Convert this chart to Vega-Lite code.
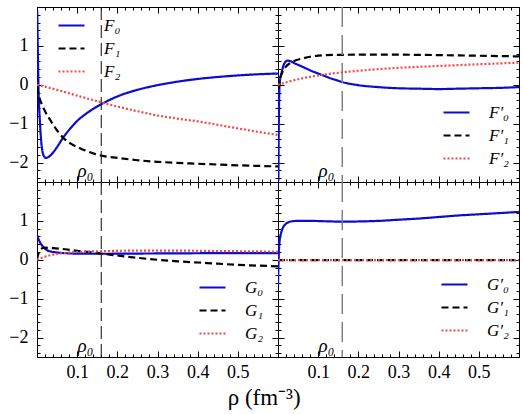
{
  "$schema": "https://vega.github.io/schema/vega-lite/v6.json",
  "padding": {"left": 8, "top": 5, "right": 4, "bottom": 0},
  "background": "white",
  "columns": 2,
  "spacing": 0,
  "bounds": "flush",
  "resolve": {"scale": {"color": "independent", "strokeDash": "independent"}, "legend": {"color": "independent", "strokeDash": "independent"}},
  "title": {"text": "ρ (fm⁻³)", "orient": "bottom", "anchor": "middle", "font": "Liberation Serif", "fontSize": 23, "fontWeight": "normal", "color": "black", "offset": 2},
  "datasets": {
    "F": [
      {"r": 0.0005, "v": 1.9, "s": "F₀"}, {"r": 0.002, "v": 0.9, "s": "F₀"}, {"r": 0.004, "v": -0.2, "s": "F₀"}, {"r": 0.007, "v": -0.9, "s": "F₀"},
      {"r": 0.01, "v": -1.4, "s": "F₀"}, {"r": 0.013, "v": -1.68, "s": "F₀"}, {"r": 0.017, "v": -1.83, "s": "F₀"}, {"r": 0.022, "v": -1.88, "s": "F₀"},
      {"r": 0.028, "v": -1.86, "s": "F₀"}, {"r": 0.036, "v": -1.79, "s": "F₀"}, {"r": 0.05, "v": -1.6, "s": "F₀"}, {"r": 0.065, "v": -1.36, "s": "F₀"},
      {"r": 0.08, "v": -1.16, "s": "F₀"}, {"r": 0.1, "v": -0.93, "s": "F₀"}, {"r": 0.12, "v": -0.76, "s": "F₀"}, {"r": 0.14, "v": -0.62, "s": "F₀"},
      {"r": 0.16, "v": -0.5, "s": "F₀"}, {"r": 0.2, "v": -0.3, "s": "F₀"}, {"r": 0.25, "v": -0.13, "s": "F₀"}, {"r": 0.3, "v": -0.01, "s": "F₀"},
      {"r": 0.35, "v": 0.08, "s": "F₀"}, {"r": 0.4, "v": 0.15, "s": "F₀"}, {"r": 0.45, "v": 0.2, "s": "F₀"}, {"r": 0.5, "v": 0.24, "s": "F₀"},
      {"r": 0.55, "v": 0.27, "s": "F₀"}, {"r": 0.6, "v": 0.29, "s": "F₀"},
      {"r": 0, "v": -0.05, "s": "F₁"}, {"r": 0.005, "v": -0.3, "s": "F₁"}, {"r": 0.01, "v": -0.45, "s": "F₁"}, {"r": 0.02, "v": -0.68, "s": "F₁"},
      {"r": 0.032, "v": -0.89, "s": "F₁"}, {"r": 0.045, "v": -1.1, "s": "F₁"}, {"r": 0.065, "v": -1.36, "s": "F₁"}, {"r": 0.085, "v": -1.52, "s": "F₁"},
      {"r": 0.107, "v": -1.63, "s": "F₁"}, {"r": 0.13, "v": -1.73, "s": "F₁"}, {"r": 0.16, "v": -1.82, "s": "F₁"}, {"r": 0.2, "v": -1.88, "s": "F₁"},
      {"r": 0.25, "v": -1.94, "s": "F₁"}, {"r": 0.3, "v": -1.98, "s": "F₁"}, {"r": 0.4, "v": -2.03, "s": "F₁"}, {"r": 0.5, "v": -2.07, "s": "F₁"},
      {"r": 0.6, "v": -2.1, "s": "F₁"},
      {"r": 0, "v": 0, "s": "F₂"}, {"r": 0.05, "v": -0.13, "s": "F₂"}, {"r": 0.1, "v": -0.28, "s": "F₂"}, {"r": 0.16, "v": -0.45, "s": "F₂"},
      {"r": 0.2, "v": -0.56, "s": "F₂"}, {"r": 0.25, "v": -0.68, "s": "F₂"}, {"r": 0.3, "v": -0.79, "s": "F₂"}, {"r": 0.35, "v": -0.87, "s": "F₂"},
      {"r": 0.4, "v": -0.94, "s": "F₂"}, {"r": 0.45, "v": -1.03, "s": "F₂"}, {"r": 0.5, "v": -1.12, "s": "F₂"}, {"r": 0.55, "v": -1.21, "s": "F₂"},
      {"r": 0.6, "v": -1.29, "s": "F₂"}
    ],
    "Fp": [
      {"r": 0.001, "v": -2.47, "s": "F′₀"}, {"r": 0.002, "v": -1.0, "s": "F′₀"}, {"r": 0.003, "v": -0.3, "s": "F′₀"}, {"r": 0.004, "v": 0.03, "s": "F′₀"},
      {"r": 0.006, "v": 0.18, "s": "F′₀"}, {"r": 0.009, "v": 0.31, "s": "F′₀"}, {"r": 0.0125, "v": 0.46, "s": "F′₀"}, {"r": 0.017, "v": 0.57, "s": "F′₀"},
      {"r": 0.0225, "v": 0.62, "s": "F′₀"}, {"r": 0.03, "v": 0.61, "s": "F′₀"}, {"r": 0.04, "v": 0.56, "s": "F′₀"}, {"r": 0.055, "v": 0.49, "s": "F′₀"},
      {"r": 0.07, "v": 0.42, "s": "F′₀"}, {"r": 0.085, "v": 0.35, "s": "F′₀"}, {"r": 0.1, "v": 0.29, "s": "F′₀"}, {"r": 0.115, "v": 0.23, "s": "F′₀"},
      {"r": 0.13, "v": 0.17, "s": "F′₀"}, {"r": 0.145, "v": 0.12, "s": "F′₀"}, {"r": 0.16, "v": 0.07, "s": "F′₀"}, {"r": 0.2, "v": -0.01, "s": "F′₀"},
      {"r": 0.25, "v": -0.06, "s": "F′₀"}, {"r": 0.3, "v": -0.09, "s": "F′₀"}, {"r": 0.35, "v": -0.1, "s": "F′₀"}, {"r": 0.4, "v": -0.11, "s": "F′₀"},
      {"r": 0.45, "v": -0.1, "s": "F′₀"}, {"r": 0.5, "v": -0.09, "s": "F′₀"}, {"r": 0.55, "v": -0.08, "s": "F′₀"}, {"r": 0.6, "v": -0.06, "s": "F′₀"},
      {"r": 0.002, "v": -0.1, "s": "F′₁"}, {"r": 0.005, "v": 0.15, "s": "F′₁"}, {"r": 0.01, "v": 0.3, "s": "F′₁"}, {"r": 0.02, "v": 0.47, "s": "F′₁"},
      {"r": 0.029, "v": 0.55, "s": "F′₁"}, {"r": 0.045, "v": 0.63, "s": "F′₁"}, {"r": 0.0625, "v": 0.68, "s": "F′₁"}, {"r": 0.08, "v": 0.72, "s": "F′₁"},
      {"r": 0.1, "v": 0.75, "s": "F′₁"}, {"r": 0.15, "v": 0.77, "s": "F′₁"}, {"r": 0.25, "v": 0.775, "s": "F′₁"}, {"r": 0.35, "v": 0.77, "s": "F′₁"},
      {"r": 0.45, "v": 0.755, "s": "F′₁"}, {"r": 0.6, "v": 0.73, "s": "F′₁"},
      {"r": 0, "v": 0, "s": "F′₂"}, {"r": 0.03, "v": 0.09, "s": "F′₂"}, {"r": 0.0625, "v": 0.17, "s": "F′₂"}, {"r": 0.1, "v": 0.24, "s": "F′₂"},
      {"r": 0.16, "v": 0.32, "s": "F′₂"}, {"r": 0.2, "v": 0.36, "s": "F′₂"}, {"r": 0.29, "v": 0.43, "s": "F′₂"}, {"r": 0.37, "v": 0.47, "s": "F′₂"},
      {"r": 0.46, "v": 0.51, "s": "F′₂"}, {"r": 0.53, "v": 0.54, "s": "F′₂"}, {"r": 0.6, "v": 0.57, "s": "F′₂"}
    ],
    "G": [
      {"r": 0, "v": 0.65, "s": "G₀"}, {"r": 0.005, "v": 0.5, "s": "G₀"}, {"r": 0.011, "v": 0.39, "s": "G₀"}, {"r": 0.023, "v": 0.26, "s": "G₀"},
      {"r": 0.035, "v": 0.21, "s": "G₀"}, {"r": 0.048, "v": 0.19, "s": "G₀"}, {"r": 0.07, "v": 0.17, "s": "G₀"}, {"r": 0.09, "v": 0.16, "s": "G₀"},
      {"r": 0.16, "v": 0.155, "s": "G₀"}, {"r": 0.25, "v": 0.16, "s": "G₀"}, {"r": 0.35, "v": 0.165, "s": "G₀"}, {"r": 0.45, "v": 0.17, "s": "G₀"},
      {"r": 0.6, "v": 0.17, "s": "G₀"},
      {"r": 0, "v": 0.02, "s": "G₁"}, {"r": 0.005, "v": 0.2, "s": "G₁"}, {"r": 0.01, "v": 0.28, "s": "G₁"}, {"r": 0.02, "v": 0.31, "s": "G₁"},
      {"r": 0.04, "v": 0.3, "s": "G₁"}, {"r": 0.07, "v": 0.27, "s": "G₁"}, {"r": 0.1, "v": 0.23, "s": "G₁"}, {"r": 0.13, "v": 0.2, "s": "G₁"},
      {"r": 0.16, "v": 0.16, "s": "G₁"}, {"r": 0.2, "v": 0.11, "s": "G₁"}, {"r": 0.25, "v": 0.05, "s": "G₁"}, {"r": 0.3, "v": 0.0, "s": "G₁"},
      {"r": 0.35, "v": -0.04, "s": "G₁"}, {"r": 0.4, "v": -0.07, "s": "G₁"}, {"r": 0.45, "v": -0.1, "s": "G₁"}, {"r": 0.5, "v": -0.13, "s": "G₁"},
      {"r": 0.55, "v": -0.15, "s": "G₁"}, {"r": 0.6, "v": -0.17, "s": "G₁"},
      {"r": 0, "v": 0.0, "s": "G₂"}, {"r": 0.02, "v": 0.08, "s": "G₂"}, {"r": 0.05, "v": 0.15, "s": "G₂"}, {"r": 0.1, "v": 0.2, "s": "G₂"},
      {"r": 0.16, "v": 0.22, "s": "G₂"}, {"r": 0.25, "v": 0.235, "s": "G₂"}, {"r": 0.35, "v": 0.235, "s": "G₂"}, {"r": 0.45, "v": 0.225, "s": "G₂"},
      {"r": 0.6, "v": 0.21, "s": "G₂"}
    ],
    "Gp": [
      {"r": 0, "v": -0.65, "s": "G′₀"}, {"r": 0.001, "v": -0.2, "s": "G′₀"}, {"r": 0.002, "v": 0.15, "s": "G′₀"}, {"r": 0.004, "v": 0.48, "s": "G′₀"},
      {"r": 0.008, "v": 0.7, "s": "G′₀"}, {"r": 0.0125, "v": 0.83, "s": "G′₀"}, {"r": 0.018, "v": 0.91, "s": "G′₀"}, {"r": 0.025, "v": 0.96, "s": "G′₀"},
      {"r": 0.035, "v": 0.99, "s": "G′₀"}, {"r": 0.05, "v": 1.0, "s": "G′₀"}, {"r": 0.08, "v": 1.0, "s": "G′₀"}, {"r": 0.12, "v": 0.99, "s": "G′₀"},
      {"r": 0.16, "v": 0.98, "s": "G′₀"}, {"r": 0.2, "v": 0.985, "s": "G′₀"}, {"r": 0.25, "v": 1.0, "s": "G′₀"}, {"r": 0.3, "v": 1.03, "s": "G′₀"},
      {"r": 0.35, "v": 1.06, "s": "G′₀"}, {"r": 0.4, "v": 1.1, "s": "G′₀"}, {"r": 0.45, "v": 1.14, "s": "G′₀"}, {"r": 0.5, "v": 1.17, "s": "G′₀"},
      {"r": 0.55, "v": 1.2, "s": "G′₀"}, {"r": 0.6, "v": 1.23, "s": "G′₀"},
      {"r": 0, "v": -0.01, "s": "G′₁"}, {"r": 0.3, "v": -0.01, "s": "G′₁"}, {"r": 0.6, "v": -0.01, "s": "G′₁"},
      {"r": 0, "v": -0.01, "s": "G′₂"}, {"r": 0.3, "v": -0.01, "s": "G′₂"}, {"r": 0.6, "v": -0.01, "s": "G′₂"}
    ]
  },
  "concat": [
    {
      "width": 241, "height": 175,
      "resolve": {"axis": {"x": "independent", "y": "independent"}},
      "layer": [
        {
          "data": {"name": "F"},
          "mark": {"type": "line", "strokeWidth": 2.2, "clip": true, "interpolate": "monotone"},
          "encoding": {
            "x": {"field": "r", "type": "quantitative", "scale": {"domain": [0, 0.6], "nice": false, "zero": false},
              "axis": {"orient": "bottom", "labels": false, "values": [0.02,0.04,0.06,0.08,0.1,0.12,0.14,0.16,0.18,0.2,0.22,0.24,0.26,0.28,0.3,0.32,0.34,0.36,0.38,0.4,0.42,0.44,0.46,0.48,0.5,0.52,0.54,0.56,0.58],
                "tickSize": {"condition": {"test": "abs(datum.value*10-round(datum.value*10))<0.001", "value": -6}, "value": -3}}},
            "y": {"field": "v", "type": "quantitative", "scale": {"domain": [-2.5, 2.0], "nice": false, "zero": false},
              "axis": {"orient": "left", "values": [-2.4,-2.2,-2,-1.8,-1.6,-1.4,-1.2,-1,-0.8,-0.6,-0.4,-0.2,0,0.2,0.4,0.6,0.8,1,1.2,1.4,1.6,1.8],
                "labelExpr": "abs(datum.value-round(datum.value))<0.001 ? format(datum.value,'d') : ''", "labelPadding": 15,
                "labelFontSize": {"condition": {"test": "abs(datum.value-round(datum.value))<0.001", "value": 18}, "value": 0},
                "tickSize": {"condition": {"test": "abs(datum.value-round(datum.value))<0.001", "value": -6}, "value": -3}}},
            "color": {"field": "s", "type": "nominal", "scale": {"domain": ["F₀","F₁","F₂"], "range": ["#0b0bd6","#000000","#f04a4a"]},
              "legend": {"title": null, "orient": "none", "legendX": 20, "legendY": 4}},
            "strokeDash": {"field": "s", "type": "nominal", "scale": {"domain": ["F₀","F₁","F₂"], "range": [[1,0],[7,4],[2,2]]},
              "legend": {"title": null, "orient": "none", "legendX": 20, "legendY": 4}}
          }
        },
        {
          "data": {"values": [{"r": 0.16}]},
          "mark": {"type": "rule", "color": "#222222", "strokeWidth": 1.1, "strokeDash": [13, 5]},
          "encoding": {
            "x": {"field": "r", "type": "quantitative", "scale": {"domain": [0, 0.6], "nice": false, "zero": false},
              "axis": {"orient": "top", "labels": false, "values": [0.02,0.04,0.06,0.08,0.1,0.12,0.14,0.16,0.18,0.2,0.22,0.24,0.26,0.28,0.3,0.32,0.34,0.36,0.38,0.4,0.42,0.44,0.46,0.48,0.5,0.52,0.54,0.56,0.58],
                "tickSize": {"condition": {"test": "abs(datum.value*10-round(datum.value*10))<0.001", "value": -6}, "value": -3}}}
          }
        },
        {
          "data": {"values": [{"r": 0.16, "v": -2.38, "t": "ρ₀"}]},
          "mark": {"type": "text", "clip": true, "align": "right", "baseline": "alphabetic", "dx": -8, "font": "Liberation Serif", "fontStyle": "italic", "fontSize": 19, "color": "black"},
          "encoding": {
            "x": {"field": "r", "type": "quantitative", "scale": {"domain": [0, 0.6], "nice": false, "zero": false}, "axis": null},
            "y": {"field": "v", "type": "quantitative", "scale": {"domain": [-2.5, 2.0], "nice": false, "zero": false},
              "axis": {"orient": "right", "labels": false, "values": [-2.4,-2.2,-2,-1.8,-1.6,-1.4,-1.2,-1,-0.8,-0.6,-0.4,-0.2,0,0.2,0.4,0.6,0.8,1,1.2,1.4,1.6,1.8],
                "tickSize": {"condition": {"test": "abs(datum.value-round(datum.value))<0.001", "value": -6}, "value": -3}}},
            "text": {"field": "t"}
          }
        }
      ]
    },
    {
      "width": 241, "height": 175,
      "resolve": {"axis": {"x": "independent", "y": "independent"}},
      "layer": [
        {
          "data": {"name": "Fp"},
          "mark": {"type": "line", "strokeWidth": 2.2, "clip": true, "interpolate": "monotone"},
          "encoding": {
            "x": {"field": "r", "type": "quantitative", "scale": {"domain": [0, 0.6], "nice": false, "zero": false},
              "axis": {"orient": "bottom", "labels": false, "values": [0.02,0.04,0.06,0.08,0.1,0.12,0.14,0.16,0.18,0.2,0.22,0.24,0.26,0.28,0.3,0.32,0.34,0.36,0.38,0.4,0.42,0.44,0.46,0.48,0.5,0.52,0.54,0.56,0.58],
                "tickSize": {"condition": {"test": "abs(datum.value*10-round(datum.value*10))<0.001", "value": -6}, "value": -3}}},
            "y": {"field": "v", "type": "quantitative", "scale": {"domain": [-2.5, 2.0], "nice": false, "zero": false},
              "axis": {"orient": "left", "labels": false, "values": [-2.4,-2.2,-2,-1.8,-1.6,-1.4,-1.2,-1,-0.8,-0.6,-0.4,-0.2,0,0.2,0.4,0.6,0.8,1,1.2,1.4,1.6,1.8],
                "tickSize": {"condition": {"test": "abs(datum.value-round(datum.value))<0.001", "value": -6}, "value": -3}}},
            "color": {"field": "s", "type": "nominal", "scale": {"domain": ["F′₀","F′₁","F′₂"], "range": ["#0b0bd6","#000000","#f04a4a"]},
              "legend": {"title": null, "orient": "none", "legendX": 164, "legendY": 91}},
            "strokeDash": {"field": "s", "type": "nominal", "scale": {"domain": ["F′₀","F′₁","F′₂"], "range": [[1,0],[7,4],[2,2]]},
              "legend": {"title": null, "orient": "none", "legendX": 164, "legendY": 91}}
          }
        },
        {
          "data": {"values": [{"r": 0.16}]},
          "mark": {"type": "rule", "color": "#808080", "strokeWidth": 1.5, "strokeDash": [20, 8]},
          "encoding": {
            "x": {"field": "r", "type": "quantitative", "scale": {"domain": [0, 0.6], "nice": false, "zero": false},
              "axis": {"orient": "top", "labels": false, "values": [0.02,0.04,0.06,0.08,0.1,0.12,0.14,0.16,0.18,0.2,0.22,0.24,0.26,0.28,0.3,0.32,0.34,0.36,0.38,0.4,0.42,0.44,0.46,0.48,0.5,0.52,0.54,0.56,0.58],
                "tickSize": {"condition": {"test": "abs(datum.value*10-round(datum.value*10))<0.001", "value": -6}, "value": -3}}}
          }
        },
        {
          "data": {"values": [{"r": 0.16, "v": -2.38, "t": "ρ₀"}]},
          "mark": {"type": "text", "clip": true, "align": "right", "baseline": "alphabetic", "dx": -8, "font": "Liberation Serif", "fontStyle": "italic", "fontSize": 19, "color": "black"},
          "encoding": {
            "x": {"field": "r", "type": "quantitative", "scale": {"domain": [0, 0.6], "nice": false, "zero": false}, "axis": null},
            "y": {"field": "v", "type": "quantitative", "scale": {"domain": [-2.5, 2.0], "nice": false, "zero": false},
              "axis": {"orient": "right", "labels": false, "values": [-2.4,-2.2,-2,-1.8,-1.6,-1.4,-1.2,-1,-0.8,-0.6,-0.4,-0.2,0,0.2,0.4,0.6,0.8,1,1.2,1.4,1.6,1.8],
                "tickSize": {"condition": {"test": "abs(datum.value-round(datum.value))<0.001", "value": -6}, "value": -3}}},
            "text": {"field": "t"}
          }
        }
      ]
    },
    {
      "width": 241, "height": 175,
      "resolve": {"axis": {"x": "independent", "y": "independent"}},
      "layer": [
        {
          "data": {"name": "G"},
          "mark": {"type": "line", "strokeWidth": 2.2, "clip": true, "interpolate": "monotone"},
          "encoding": {
            "x": {"field": "r", "type": "quantitative", "scale": {"domain": [0, 0.6], "nice": false, "zero": false},
              "axis": {"orient": "bottom", "values": [0.02,0.04,0.06,0.08,0.1,0.12,0.14,0.16,0.18,0.2,0.22,0.24,0.26,0.28,0.3,0.32,0.34,0.36,0.38,0.4,0.42,0.44,0.46,0.48,0.5,0.52,0.54,0.56,0.58],
                "labelExpr": "abs(datum.value*10-round(datum.value*10))<0.001 ? format(datum.value,'.1f') : ''", "labelPadding": 12,
                "tickSize": {"condition": {"test": "abs(datum.value*10-round(datum.value*10))<0.001", "value": -6}, "value": -3}}},
            "y": {"field": "v", "type": "quantitative", "scale": {"domain": [-2.5, 2.0], "nice": false, "zero": false},
              "axis": {"orient": "left", "values": [-2.4,-2.2,-2,-1.8,-1.6,-1.4,-1.2,-1,-0.8,-0.6,-0.4,-0.2,0,0.2,0.4,0.6,0.8,1,1.2,1.4,1.6,1.8],
                "labelExpr": "abs(datum.value-round(datum.value))<0.001 ? format(datum.value,'d') : ''", "labelPadding": 15,
                "labelFontSize": {"condition": {"test": "abs(datum.value-round(datum.value))<0.001", "value": 18}, "value": 0},
                "tickSize": {"condition": {"test": "abs(datum.value-round(datum.value))<0.001", "value": -6}, "value": -3}}},
            "color": {"field": "s", "type": "nominal", "scale": {"domain": ["G₀","G₁","G₂"], "range": ["#0b0bd6","#000000","#f04a4a"]},
              "legend": {"title": null, "orient": "none", "legendX": 161, "legendY": 91}},
            "strokeDash": {"field": "s", "type": "nominal", "scale": {"domain": ["G₀","G₁","G₂"], "range": [[1,0],[7,4],[2,2]]},
              "legend": {"title": null, "orient": "none", "legendX": 161, "legendY": 91}}
          }
        },
        {
          "data": {"values": [{"r": 0.16}]},
          "mark": {"type": "rule", "color": "#222222", "strokeWidth": 1.1, "strokeDash": [13, 5]},
          "encoding": {
            "x": {"field": "r", "type": "quantitative", "scale": {"domain": [0, 0.6], "nice": false, "zero": false},
              "axis": {"orient": "top", "labels": false, "values": [0.02,0.04,0.06,0.08,0.1,0.12,0.14,0.16,0.18,0.2,0.22,0.24,0.26,0.28,0.3,0.32,0.34,0.36,0.38,0.4,0.42,0.44,0.46,0.48,0.5,0.52,0.54,0.56,0.58],
                "tickSize": {"condition": {"test": "abs(datum.value*10-round(datum.value*10))<0.001", "value": -6}, "value": -3}}}
          }
        },
        {
          "data": {"values": [{"r": 0.16, "v": -2.38, "t": "ρ₀"}]},
          "mark": {"type": "text", "clip": true, "align": "right", "baseline": "alphabetic", "dx": -8, "font": "Liberation Serif", "fontStyle": "italic", "fontSize": 19, "color": "black"},
          "encoding": {
            "x": {"field": "r", "type": "quantitative", "scale": {"domain": [0, 0.6], "nice": false, "zero": false}, "axis": null},
            "y": {"field": "v", "type": "quantitative", "scale": {"domain": [-2.5, 2.0], "nice": false, "zero": false},
              "axis": {"orient": "right", "labels": false, "values": [-2.4,-2.2,-2,-1.8,-1.6,-1.4,-1.2,-1,-0.8,-0.6,-0.4,-0.2,0,0.2,0.4,0.6,0.8,1,1.2,1.4,1.6,1.8],
                "tickSize": {"condition": {"test": "abs(datum.value-round(datum.value))<0.001", "value": -6}, "value": -3}}},
            "text": {"field": "t"}
          }
        }
      ]
    },
    {
      "width": 241, "height": 175,
      "resolve": {"axis": {"x": "independent", "y": "independent"}},
      "layer": [
        {
          "data": {"name": "Gp"},
          "mark": {"type": "line", "strokeWidth": 2.2, "clip": true, "interpolate": "monotone"},
          "encoding": {
            "x": {"field": "r", "type": "quantitative", "scale": {"domain": [0, 0.6], "nice": false, "zero": false},
              "axis": {"orient": "bottom", "values": [0.02,0.04,0.06,0.08,0.1,0.12,0.14,0.16,0.18,0.2,0.22,0.24,0.26,0.28,0.3,0.32,0.34,0.36,0.38,0.4,0.42,0.44,0.46,0.48,0.5,0.52,0.54,0.56,0.58],
                "labelExpr": "abs(datum.value*10-round(datum.value*10))<0.001 ? format(datum.value,'.1f') : ''", "labelPadding": 12,
                "tickSize": {"condition": {"test": "abs(datum.value*10-round(datum.value*10))<0.001", "value": -6}, "value": -3}}},
            "y": {"field": "v", "type": "quantitative", "scale": {"domain": [-2.5, 2.0], "nice": false, "zero": false},
              "axis": {"orient": "left", "labels": false, "values": [-2.4,-2.2,-2,-1.8,-1.6,-1.4,-1.2,-1,-0.8,-0.6,-0.4,-0.2,0,0.2,0.4,0.6,0.8,1,1.2,1.4,1.6,1.8],
                "tickSize": {"condition": {"test": "abs(datum.value-round(datum.value))<0.001", "value": -6}, "value": -3}}},
            "color": {"field": "s", "type": "nominal", "scale": {"domain": ["G′₀","G′₁","G′₂"], "range": ["#0b0bd6","#000000","#f04a4a"]},
              "legend": {"title": null, "orient": "none", "legendX": 162, "legendY": 88}},
            "strokeDash": {"field": "s", "type": "nominal", "scale": {"domain": ["G′₀","G′₁","G′₂"], "range": [[1,0],[7,4],[2,2]]},
              "legend": {"title": null, "orient": "none", "legendX": 162, "legendY": 88}}
          }
        },
        {
          "data": {"values": [{"r": 0.16}]},
          "mark": {"type": "rule", "color": "#808080", "strokeWidth": 1.5, "strokeDash": [20, 8]},
          "encoding": {
            "x": {"field": "r", "type": "quantitative", "scale": {"domain": [0, 0.6], "nice": false, "zero": false},
              "axis": {"orient": "top", "labels": false, "values": [0.02,0.04,0.06,0.08,0.1,0.12,0.14,0.16,0.18,0.2,0.22,0.24,0.26,0.28,0.3,0.32,0.34,0.36,0.38,0.4,0.42,0.44,0.46,0.48,0.5,0.52,0.54,0.56,0.58],
                "tickSize": {"condition": {"test": "abs(datum.value*10-round(datum.value*10))<0.001", "value": -6}, "value": -3}}}
          }
        },
        {
          "data": {"values": [{"r": 0.16, "v": -2.38, "t": "ρ₀"}]},
          "mark": {"type": "text", "clip": true, "align": "right", "baseline": "alphabetic", "dx": -8, "font": "Liberation Serif", "fontStyle": "italic", "fontSize": 19, "color": "black"},
          "encoding": {
            "x": {"field": "r", "type": "quantitative", "scale": {"domain": [0, 0.6], "nice": false, "zero": false}, "axis": null},
            "y": {"field": "v", "type": "quantitative", "scale": {"domain": [-2.5, 2.0], "nice": false, "zero": false},
              "axis": {"orient": "right", "labels": false, "values": [-2.4,-2.2,-2,-1.8,-1.6,-1.4,-1.2,-1,-0.8,-0.6,-0.4,-0.2,0,0.2,0.4,0.6,0.8,1,1.2,1.4,1.6,1.8],
                "tickSize": {"condition": {"test": "abs(datum.value-round(datum.value))<0.001", "value": -6}, "value": -3}}},
            "text": {"field": "t"}
          }
        }
      ]
    }
  ],
  "config": {
    "view": {"stroke": "black", "strokeWidth": 1},
    "axis": {"domainColor": "black", "domainWidth": 1, "tickColor": "black", "tickWidth": 1, "grid": false, "title": null,
      "labelFont": "Liberation Serif", "labelFontSize": 18, "labelColor": "black", "labelOverlap": false, "labelFlush": false},
    "legend": {"symbolType": "stroke", "symbolSize": 676, "symbolStrokeWidth": 2.2, "labelFont": "Liberation Serif", "labelFontSize": 17,
      "labelFontStyle": "italic", "labelColor": "black", "labelOffset": 18, "rowPadding": -7, "padding": 0}
  }
}
